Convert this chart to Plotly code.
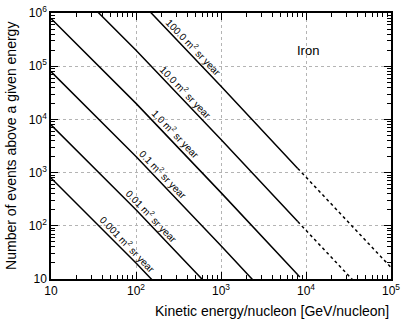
import numpy as np
import plotly.graph_objects as go

# Kinetic energy per nucleon [GeV/nucleon]
energy = [10, 100, 1000, 8000, 1e4, 1e5]
# Integral number of iron events above energy, per 1 m^2 sr year of exposure
events_per_exposure = [7.9e5, 2.0e4, 4.2e2, 12, 8.2, 0.165]
solid_end = 3  # index of last measured point (solid); beyond it dashed extrapolation

exposures = [0.001, 0.01, 0.1, 1.0, 10.0, 100.0]
exposure_labels = ["0.001", "0.01", "0.1", "1.0", "10.0", "100.0"]
label_energy = [80, 154, 208, 295, 387, 479]

x_tickvals = [10, 100, 1000, 1e4, 1e5]
x_ticktext = ["10", "10<sup>2</sup>", "10<sup>3</sup>", "10<sup>4</sup>", "10<sup>5</sup>"]
y_tickvals = [10, 100, 1000, 1e4, 1e5, 1e6]
y_ticktext = ["10", "10<sup>2</sup>", "10<sup>3</sup>", "10<sup>4</sup>", "10<sup>5</sup>", "10<sup>6</sup>"]

FONT = "Liberation Sans, Arial, Helvetica, sans-serif"

fig = go.Figure()
for exp in exposures:
    counts = [exp * v for v in events_per_exposure]
    fig.add_trace(go.Scatter(x=energy[:solid_end + 1], y=counts[:solid_end + 1],
                             mode="lines", line=dict(color="black", width=1.5),
                             showlegend=False, hoverinfo="skip"))
    fig.add_trace(go.Scatter(x=energy[solid_end:], y=counts[solid_end:],
                             mode="lines", line=dict(color="black", width=1.5, dash="3px,3px"),
                             showlegend=False, hoverinfo="skip"))

log_e = np.log10(energy)
log_n = np.log10(events_per_exposure)
for exp, lab, le in zip(exposures, exposure_labels, label_energy):
    ly = np.log10(exp) + np.interp(np.log10(le), log_e, log_n)
    fig.add_annotation(x=np.log10(le), y=ly, xref="x", yref="y",
                       text=f"{lab} m<sup>2</sup> sr year", showarrow=False,
                       textangle=46, yshift=11,
                       font=dict(size=10, color="black", family=FONT))

fig.add_annotation(x=np.log10(1.05e4), y=5.3, xref="x", yref="y", text="Iron",
                   showarrow=False, font=dict(size=13, color="black", family=FONT))

fig.add_annotation(x=1.0, y=-0.084, xref="paper", yref="paper", xanchor="right", yanchor="top",
                   text="Kinetic energy/nucleon [GeV/nucleon]", showarrow=False,
                   font=dict(size=14, color="black", family=FONT))

fig.add_annotation(x=-0.118, y=0.5, xref="paper", yref="paper", xanchor="center", yanchor="middle",
                   text="Number of events above a given energy", showarrow=False, textangle=-90,
                   font=dict(size=14, color="black", family=FONT))

axis_common = dict(
    type="log", showline=True, linecolor="black", linewidth=1.5, mirror="ticks",
    ticks="inside", ticklen=7, tickwidth=1, tickcolor="black",
    showgrid=True, gridcolor="#b4b4b4", griddash="3px,3px", gridwidth=1,
    zeroline=False, automargin=False,
    minor=dict(ticks="inside", ticklen=4, tickwidth=1, tickcolor="black", dtick="D1", showgrid=False),
    tickfont=dict(size=12, color="black", family=FONT),
)

fig.update_layout(
    width=407, height=319,
    margin=dict(l=51, r=16, t=13, b=40),
    paper_bgcolor="white", plot_bgcolor="white",
    font=dict(family=FONT, color="black"),
    xaxis=dict(axis_common, range=[1, 5], tickvals=x_tickvals, ticktext=x_ticktext),
    yaxis=dict(axis_common, range=[1, 6], tickvals=y_tickvals, ticktext=y_ticktext),
)

fig.write_html("out.html", config={"displayModeBar": False},
               post_script="document.body.style.margin='0';document.body.style.padding='0';")
